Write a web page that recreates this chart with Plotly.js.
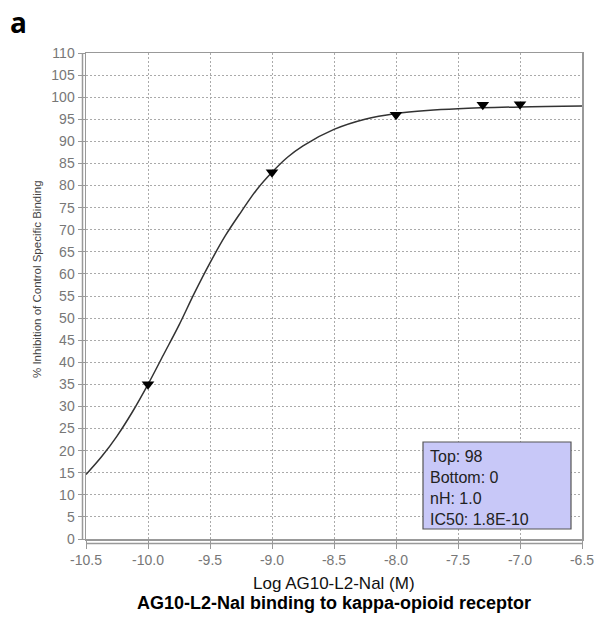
<!DOCTYPE html>
<html>
<head>
<meta charset="utf-8">
<script src="https://cdn.plot.ly/plotly-3.0.1.min.js"></script>
<style>html,body{margin:0;padding:0;background:#fff;}#chart{width:594px;height:620px;}</style>
</head>
<body>
<div id="chart"></div>
<script>
// Measured data points (log concentration, % inhibition)
const pointLogConc = [-10, -9, -8, -7.3, -7];
const pointInhibition = [35, 83, 96, 98.3, 98.4];

// Fitted curve
const curveLogConc = [-10.5, -10.375, -10.25, -10.125, -10, -9.875, -9.75, -9.625, -9.5, -9.375, -9.25, -9.125, -9, -8.875, -8.75, -8.5, -8.25, -8, -7.75, -7.5, -7, -6.5];
const curveInhibition = [14.6, 18.6, 23.3, 28.8, 35, 41.7, 48.4, 55.7, 62.5, 68.7, 74, 79, 83, 86.4, 89, 92.7, 95, 96.3, 97, 97.4, 97.8, 98];

// Tick labels
const xTickVals = [-10.5, -10, -9.5, -9, -8.5, -8, -7.5, -7, -6.5];
const xTickLabels = ['-10.5', '-10.0', '-9.5', '-9.0', '-8.5', '-8.0', '-7.5', '-7.0', '-6.5'];
const yTickVals = [0,5,10,15,20,25,30,35,40,45,50,55,60,65,70,75,80,85,90,95,100,105,110];

// Fit parameters box
const fitLines = ['Top: 98', 'Bottom: 0', 'nH: 1.0', 'IC50: 1.8E-10'];

const traces = [
  {
    x: curveLogConc, y: curveInhibition, type: 'scatter', mode: 'lines',
    line: {color: '#333', width: 1.5, shape: 'spline', smoothing: 1},
    hoverinfo: 'skip'
  },
  {
    x: pointLogConc, y: pointInhibition, type: 'scatter', mode: 'markers',
    marker: {symbol: 'triangle-down', size: 11, color: '#000'}
  }
];

const tickFont = {family: 'Liberation Sans, Arial, sans-serif', size: 14, color: '#777'};

const annotations = [
  {xref: 'paper', yref: 'paper', x: -78/496, y: 1 + 31/486, xanchor: 'left', yanchor: 'middle',
   text: '<b>a</b>', showarrow: false, font: {family: 'Open Sans, sans-serif', size: 28, color: '#000'}},
  {xref: 'paper', yref: 'paper', x: -49/496, y: (539-279)/486, xanchor: 'center', yanchor: 'middle',
   text: '% Inhibition of Control Specific Binding', textangle: -90, showarrow: false,
   font: {family: 'Liberation Sans, Arial, sans-serif', size: 11.5, color: '#444'}},
  {xref: 'paper', yref: 'paper', x: 0.5, y: -44/486, xanchor: 'center', yanchor: 'middle',
   text: 'Log AG10-L2-Nal (M)', showarrow: false, font: {family: 'Liberation Sans, Arial, sans-serif', size: 17, color: '#111'}},
  {xref: 'paper', yref: 'paper', x: 0.5, y: -64/486, xanchor: 'center', yanchor: 'middle',
   text: '<b>AG10-L2-Nal binding to kappa-opioid receptor</b>', showarrow: false,
   font: {family: 'Liberation Sans, Arial, sans-serif', size: 18, color: '#000'}}
];
const lineYs = [456, 477, 498, 519];
fitLines.forEach((t, i) => {
  annotations.push({xref: 'paper', yref: 'paper', x: (428-86)/496, y: (539 - lineYs[i])/486,
    xanchor: 'left', yanchor: 'middle', text: t, showarrow: false,
    font: {family: 'Liberation Sans, Arial, sans-serif', size: 16, color: '#222'}});
});

const layout = {
  width: 594, height: 620,
  margin: {l: 86, r: 12, t: 53, b: 81},
  paper_bgcolor: '#fff', plot_bgcolor: '#fff',
  showlegend: false,
  xaxis: {
    range: [-10.5, -6.5], tickvals: xTickVals, ticktext: xTickLabels,
    showgrid: true, gridcolor: '#aaa', griddash: '2px,2px', gridwidth: 1,
    showline: true, mirror: true, linecolor: '#999', linewidth: 1.5,
    ticks: 'outside', ticklen: 8, tickcolor: '#999', tickfont: tickFont,
    ticklabeloverflow: 'allow', zeroline: false
  },
  yaxis: {
    range: [0, 110], tickvals: yTickVals,
    showgrid: true, gridcolor: '#aaa', griddash: '2px,2px', gridwidth: 1,
    showline: true, mirror: true, linecolor: '#999', linewidth: 1.5,
    ticks: 'outside', ticklen: 7, tickcolor: '#999', tickfont: tickFont,
    zeroline: false
  },
  shapes: [
    {type: 'line', xref: 'paper', yref: 'paper', xsizemode: 'pixel', xanchor: 0, x0: -3.5, x1: -3.5,
     y0: 0, y1: 1, line: {color: '#999', width: 1.5}},
    {type: 'line', xref: 'paper', yref: 'paper', ysizemode: 'pixel', yanchor: 0, y0: -4.5, y1: -4.5,
     x0: 0, x1: 1, line: {color: '#999', width: 1.5}},
    {type: 'rect', xref: 'paper', yref: 'paper', x0: (423-86)/496, x1: (571-86)/496,
     y0: (539-529)/486, y1: (539-442)/486, fillcolor: '#c8c8f8', line: {color: '#555', width: 1.2}, layer: 'above'}
  ],
  annotations: annotations
};

Plotly.newPlot('chart', traces, layout, {displayModeBar: false, staticPlot: true});
</script>
</body>
</html>
